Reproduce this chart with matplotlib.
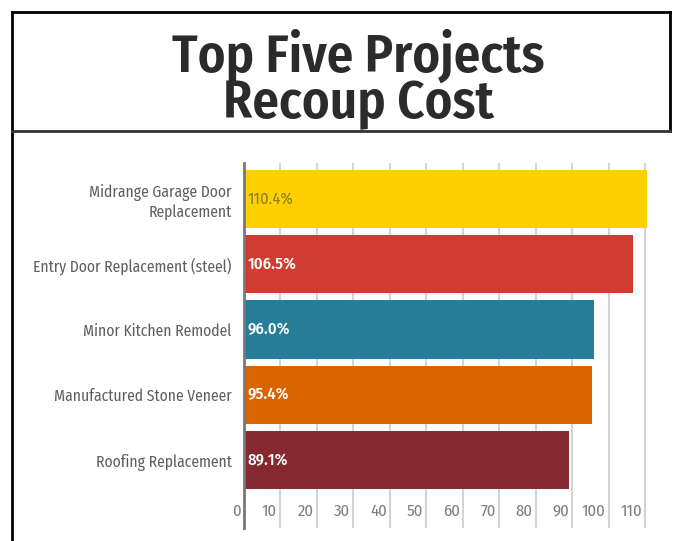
import matplotlib.pyplot as plt
from matplotlib.lines import Line2D

# data
projects = ['Midrange Garage Door\nReplacement',
            'Entry Door Replacement (steel)',
            'Minor Kitchen Remodel',
            'Manufactured Stone Veneer',
            'Roofing Replacement']
recoup = [110.4, 106.5, 96.0, 95.4, 89.1]
bar_colors = ['#FFD000', '#D13B31', '#267D98', '#DA6400', '#852830']
label_colors = ['#8A7A2E', 'white', 'white', 'white', 'white']
ticks = [0, 10, 20, 30, 40, 50, 60, 70, 80, 90, 100, 110]

cond = ['Fira Sans Condensed', 'DejaVu Sans']

W, H = 681, 541
fig = plt.figure(figsize=(W / 100, H / 100), dpi=100)

# frame lines around the title block
def px_line(x0, y0, x1, y1, lw, color):
    fig.add_artist(Line2D([x0 / W, x1 / W], [1 - y0 / H, 1 - y1 / H],
                          lw=lw, color=color, transform=fig.transFigure))

px_line(12, 12, 670, 12, 2, 'black')
px_line(12, 12, 12, 541, 2, 'black')
px_line(670, 12, 670, 131, 2, 'black')
px_line(12, 131, 670, 131, 2, '#333333')

fig.text(358 / W, 1 - 79 / H, 'Top Five Projects\nRecoup Cost', ha='center', va='center',
         fontsize=38, fontweight='semibold', color='#2b2b2b', family=cond, linespacing=0.9)

ax = fig.add_axes([244 / W, 1 - 528 / H, (660 - 244) / W, (528 - 163) / H])
y = list(range(len(projects)))
ax.barh(y, recoup, height=0.89, color=bar_colors, zorder=2)
ax.set_xlim(0, 114)
ax.set_ylim(5.04, -0.55)

for t in ticks[1:]:
    ax.axvline(t, color='#d4d4d4', lw=1.5, zorder=1)
for t in ticks:
    ax.text(t - 0.9, 0.025, str(t), transform=ax.get_xaxis_transform(), ha='right', va='bottom',
            fontsize=12, color='#7f7f7f', family=cond)

for i, v in enumerate(recoup):
    ax.text(1.0, i, f'{v:.1f}%', va='center', ha='left', fontsize=12,
            color=label_colors[i], family=cond, fontweight='medium' if i else 'normal', zorder=3)

ax.set_yticks(y)
ax.set_yticklabels(projects, family=cond, fontsize=11.2, color='#5f5f5f')
ax.tick_params(axis='y', length=0, pad=9)
ax.set_xticks([])
for s in ['top', 'right', 'bottom']:
    ax.spines[s].set_visible(False)
ax.spines['left'].set_color('#777777')
ax.spines['left'].set_linewidth(2)

fig.savefig('out.png', dpi=100)
